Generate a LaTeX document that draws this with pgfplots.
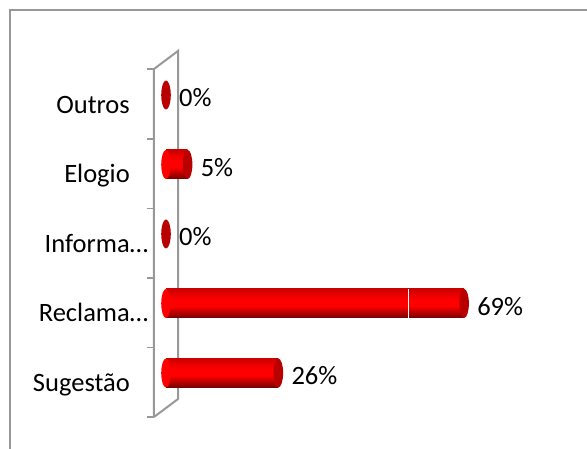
\documentclass[border=0pt]{standalone}
\usepackage{fontspec}
\setmainfont{Carlito}
\usepackage{pgfplots}
\pgfplotsset{compat=1.18}
\definecolor{framegray}{HTML}{989898}
\definecolor{capred}{HTML}{B80000}
\pgfdeclareverticalshading{cyl}{100bp}{
  color(0bp)=(red!45!black); color(25bp)=(red!45!black); color(36bp)=(red!75!black); color(46bp)=(red);
  color(56bp)=(red); color(65bp)=(red!92!black); color(75bp)=(red!80!black); color(100bp)=(red!80!black)}
\newcommand{\labfont}{\fontsize{26.5}{26.5}\selectfont}
\pgfplotsset{cylbar/.style={xbar,bar width=29pt,draw=none,shading=cyl,forget plot}}
\begin{document}
\begin{tikzpicture}[x=1pt,y=1pt]
\useasboundingbox (0,0) rectangle (587,449);
\draw[framegray,line width=2pt] (9.5,0) -- (9.5,438.5) -- (587,438.5);
\begin{axis}[
  at={(154pt,32pt)}, anchor=south west,
  scale only axis, width=386pt, height=348pt,
  xmin=-2.78, xmax=86.57,
  ymin=-0.633, ymax=4.374,
  clip=false,
  axis x line=none,
  axis y line*=left,
  y axis line style={draw=none},
  ytick={-0.133,0.867,1.867,2.867,3.867},
  yticklabels={Sugestão,Reclama\rlap{…},Informa\rlap{…},Elogio,Outros},
  minor ytick={-0.633,0.367,1.367,2.367,3.367,4.374},
  major tick length=0pt,
  minor tick length=7pt,
  tick align=outside,
  minor tick style={framegray,line width=1.6pt},
  yticklabel style={font=\labfont,inner sep=0pt,anchor=base east,xshift=-24pt,yshift=-9pt},
  /pgf/number format/assume math mode=true,
]
% wall
\addplot[framegray,line width=2pt,forget plot] coordinates {
  (-2.78,-0.633) (-2.78,4.374) (2.78,4.634) (2.78,-0.374) (-2.78,-0.633)};
% bars, one plot each so that each gets its own shading
\addplot[cylbar] coordinates {(26,0)};
\addplot[cylbar] coordinates {(69,1)};
\addplot[cylbar] coordinates {(5,3)};
% left ends
\addplot[only marks,mark=*,mark size=14.5pt,mark options={xscale=0.33,fill=red,draw opacity=0},forget plot] coordinates {
  (0,0) (0,1) (0,3)};
% end caps with labels
\addplot[only marks,mark=*,mark size=14.5pt,mark options={xscale=0.33,fill=capred,draw opacity=0},
  point meta=x,
  nodes near coords={\pgfmathprintnumber{\pgfplotspointmeta}\%},
  every node near coord/.style={font=\labfont,anchor=west,inner sep=0pt,xshift=13pt,yshift=-3pt,text=black},
] coordinates {(26,0) (69,1) (0,2) (5,3) (0,4)};
% hairline in the long bar
\addplot[white,line width=0.6pt,forget plot] coordinates {(56.2,0.79) (56.2,1.21)};
\end{axis}
\end{tikzpicture}
\end{document}
